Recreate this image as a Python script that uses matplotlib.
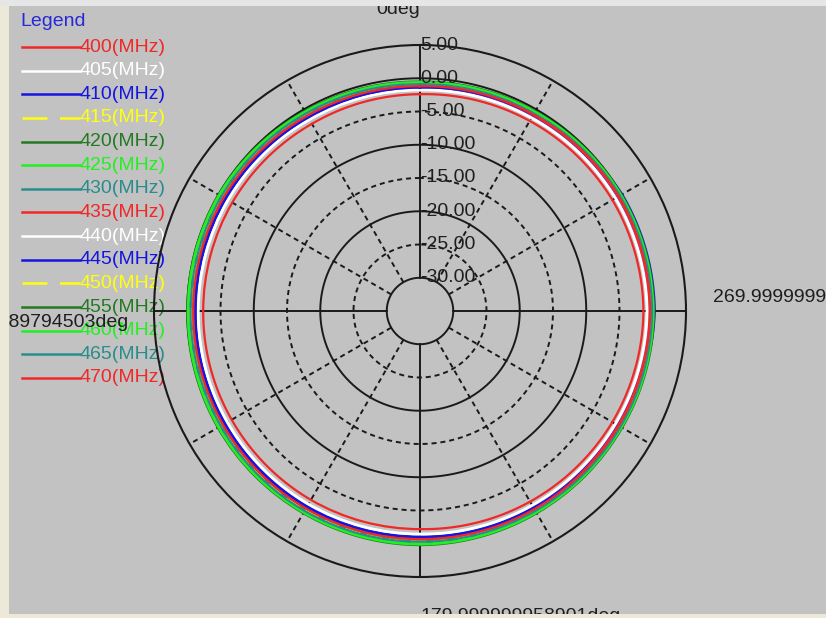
import numpy as np
import matplotlib
matplotlib.use("Agg")
import matplotlib.pyplot as plt
from matplotlib.lines import Line2D
from matplotlib.patches import Rectangle

W, H = 826, 618
plt.rcParams["font.family"] = ["Liberation Sans", "DejaVu Sans"]

# frequencies shown in the legend
freqs = [400, 405, 410, 415, 420, 425, 430, 435, 440, 445, 450, 455, 460, 465, 470]
colors = ["#f02828", "#ffffff", "#1515e0", "#ffff10", "#237a23", "#22f022", "#2a8c8c",
          "#f02828", "#ffffff", "#1515e0", "#ffff10", "#237a23", "#22f022", "#2a8c8c",
          "#f02828"]
dashed = [False, False, False, True, False, False, False,
          False, False, False, True, False, False, False, False]

# measured pattern (dB), angle counted counter-clockwise from the top
angles_deg = [0, 30, 60, 90, 120, 150, 180, 210, 240, 270, 300, 330]
gain_db = [
    [-2.4, -2.5, -2.4, -2.4, -2.3, -2.2, -2.2, -1.9, -1.6, -1.4, -1.6, -2.0],  # 400
    [-1.8, -1.8, -1.7, -1.7, -1.6, -1.5, -1.5, -1.3, -1.1, -0.9, -1.1, -1.5],  # 405
    [-1.5, -1.5, -1.3, -1.3, -1.2, -1.2, -1.1, -1.0, -0.8, -0.7, -0.9, -1.2],  # 410
    [-1.1, -1.0, -0.7, -0.7, -0.6, -0.6, -0.5, -0.5, -0.4, -0.3, -0.5, -0.8],  # 415
    [-0.8, -0.6, -0.4, -0.4, -0.3, -0.2, -0.2, -0.2, -0.2, 0.0, -0.2, -0.6],   # 420
    [-0.7, -0.5, -0.2, -0.2, -0.1, -0.1, 0.0, -0.1, -0.1, 0.0, -0.2, -0.5],    # 425
    [-1.0, -0.8, -0.6, -0.6, -0.5, -0.5, -0.4, -0.4, -0.3, -0.2, -0.4, -0.7],  # 430
    [-1.3, -1.2, -1.0, -1.0, -0.9, -0.8, -0.8, -0.7, -0.6, -0.5, -0.6, -1.0],  # 435
    [-1.7, -1.7, -1.6, -1.6, -1.5, -1.4, -1.4, -1.2, -1.0, -0.8, -1.0, -1.4],  # 440
    [-1.4, -1.4, -1.2, -1.2, -1.1, -1.0, -1.0, -0.8, -0.3, 0.3, 0.1, -0.9],    # 445
    [-0.9, -0.7, -0.5, -0.5, -0.4, -0.4, -0.3, -0.3, -0.2, -0.1, -0.3, -0.6],  # 450
    [-0.5, -0.3, 0.0, 0.0, 0.1, 0.1, 0.2, 0.1, 0.1, 0.2, 0.0, -0.3],           # 455
    [-0.6, -0.4, -0.1, -0.1, 0.0, 0.0, 0.1, 0.0, 0.0, 0.1, -0.1, -0.4],        # 460
    [-0.9, -0.7, -0.5, -0.5, -0.4, -0.3, -0.3, -0.3, -0.2, -0.1, -0.3, -0.7],  # 465
    [-1.2, -1.1, -0.9, -0.9, -0.8, -0.7, -0.7, -0.6, -0.5, -0.4, -0.5, -0.9],  # 470
]

ring_levels = [5, 0, -5, -10, -15, -20, -25, -30]
ring_labels = ["5.00", "0.00", "-5.00", "-10.00", "-15.00", "-20.00", "-25.00", "-30.00"]
solid_rings = [5, 0, -10, -20, -30]
spoke_deg = [0, 30, 60, 90, 120, 150, 180, 210, 240, 270, 300, 330]

top_label = "0deg"
left_label = "89.99999989794503deg"
right_label = "269.9999999897945deg"
bottom_label = "179.999999958901deg"


def fx(x):
    return x / W


def fy(y):
    return 1 - y / H


fig = plt.figure(figsize=(W / 100, H / 100), dpi=100)
fig.patch.set_facecolor("#c2c2c2")

# window frame strips
fig.add_artist(Rectangle((0, 0), fx(9), 1, transform=fig.transFigure,
                         facecolor="#ece9d8", edgecolor="none", zorder=6))
fig.add_artist(Rectangle((0, fy(6)), 1, 6 / H, transform=fig.transFigure,
                         facecolor="#e6e6e6", edgecolor="none", zorder=6))
fig.add_artist(Rectangle((0, 0), 1, 4 / H, transform=fig.transFigure,
                         facecolor="#ece9d8", edgecolor="none", zorder=6))

# polar area: centre (420, 311), outer ring radius 266 px
ax = fig.add_axes([fx(154), fy(577), 532 / W, 532 / H], projection="polar")
ax.set_facecolor("none")
ax.set_theta_zero_location("N")
ax.set_theta_direction(1)
ax.set_ylim(-35, 5)
ax.grid(False)
ax.set_xticks([])
ax.set_yticks([])
ax.spines["polar"].set_color("#1a1a1a")
ax.spines["polar"].set_linewidth(1.5)

full = np.linspace(0, 2 * np.pi, 361)
for lev in ring_levels:
    if lev == 5:
        continue
    ls = "-" if lev in solid_rings else (0, (2.6, 2.0))
    ax.plot(full, np.full_like(full, lev), color="#1a1a1a", lw=1.4, ls=ls, zorder=1)

for a in spoke_deg:
    t = np.deg2rad(a)
    ls = "-" if a % 90 == 0 else (0, (2.6, 2.0))
    ax.plot([t, t], [-30, 5], color="#1a1a1a", lw=1.4, ls=ls, zorder=1)

th = np.deg2rad(angles_deg + [360])
for g, c, d in zip(gain_db, colors, dashed):
    ls = (0, (7, 3)) if d else "-"
    ln, = ax.plot(th, g + [g[0]], color=c, lw=1.6, ls=ls, zorder=2)
    # draw each segment straight in (theta, r), i.e. curved on screen
    ln.get_path()._interpolation_steps = 40

for lev, lab in zip(ring_levels, ring_labels):
    ax.text(0, lev, lab, ha="left", va="center", fontsize=14,
            color="#1e1e1e", zorder=5)

# legend drawn under the plot lines, as in the original
fig.text(fx(20), fy(21), "Legend", ha="left", va="center", fontsize=14,
         color="#2828d8", zorder=-1)
for i, (f, c, d) in enumerate(zip(freqs, colors, dashed)):
    y = fy(47 + 23.64 * i)
    ln = Line2D([fx(22), fx(80)], [y, y], transform=fig.transFigure, color=c,
                lw=1.8, ls=(0, (10, 5)) if d else "-", zorder=-1)
    fig.add_artist(ln)
    fig.text(fx(80), y, f"{f}(MHz)", ha="left", va="center", fontsize=14,
             color=c, zorder=-1)

fig.text(fx(420), fy(14), top_label, ha="right", va="baseline", fontsize=14,
         color="#1e1e1e")
fig.text(fx(128), fy(323), left_label, ha="right", va="center", fontsize=14,
         color="#1e1e1e", zorder=5)
fig.text(fx(713), fy(298), right_label, ha="left", va="center", fontsize=14,
         color="#1e1e1e")
fig.text(fx(420), fy(621), bottom_label, ha="left", va="baseline", fontsize=14,
         color="#1e1e1e")

fig.savefig("out.png", dpi=100, facecolor=fig.get_facecolor())
